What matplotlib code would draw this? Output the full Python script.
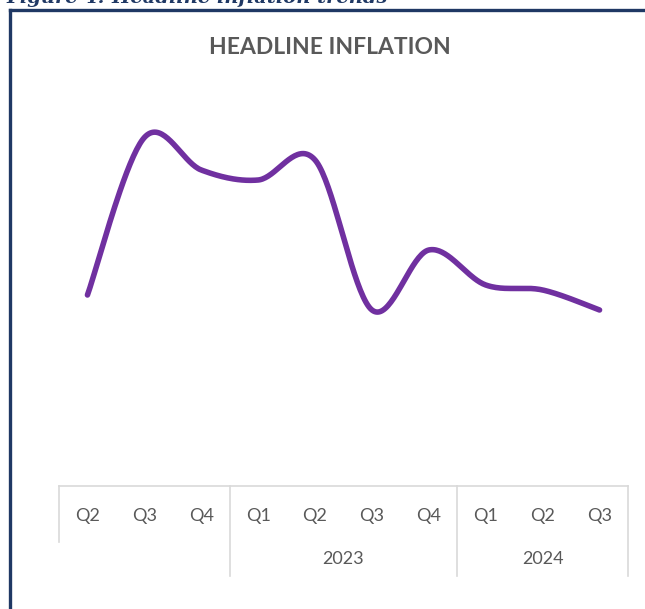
import numpy as np
import matplotlib
matplotlib.use("Agg")
import matplotlib.pyplot as plt
from matplotlib.lines import Line2D

# quarterly headline inflation (no value axis shown, values read off the line shape)
quarters = ["Q2", "Q3", "Q4", "Q1", "Q2", "Q3", "Q4", "Q1", "Q2", "Q3"]
years = ["", "2023", "2024"]
group_sizes = [3, 4, 3]
inflation = [6.2, 12.5, 11.2, 10.8, 11.6, 5.6, 8.0, 6.6, 6.4, 5.6]

PURPLE = "#7030A0"
GREY = "#595959"
NAVY = "#1F3864"
W, H = 645, 609


def smooth(x, y, n=40):
    # Excel-style smoothed line: Catmull-Rom bezier through the points
    x = np.asarray(x, float); y = np.asarray(y, float)
    px = np.r_[x[0], x, x[-1]]; py = np.r_[y[0], y, y[-1]]
    xs, ys = [], []
    t = np.linspace(0, 1, n)
    for i in range(1, len(x)):
        p0, p1, p2, p3 = [np.array([px[j], py[j]]) for j in (i - 1, i, i + 1, i + 2)]
        c1 = p1 + (p2 - p0) / 6
        c2 = p2 - (p3 - p1) / 6
        b = ((1 - t) ** 3)[:, None] * p1 + (3 * (1 - t) ** 2 * t)[:, None] * c1 \
            + (3 * (1 - t) * t ** 2)[:, None] * c2 + (t ** 3)[:, None] * p2
        xs.append(b[:, 0]); ys.append(b[:, 1])
    return np.concatenate(xs), np.concatenate(ys)


plt.rcParams["font.family"] = ["Lato", "DejaVu Sans"]
fig = plt.figure(figsize=(W / 100, H / 100), dpi=100)

def fx(px): return px / W
def fy(py): return 1 - py / H

# plot area
ax = fig.add_axes([fx(59), fy(486), fx(628) - fx(59), fy(80) - fy(486)])
xi = np.arange(len(quarters))
sx, sy = smooth(xi, inflation)
ax.plot(sx, sy, color=PURPLE, lw=4.0, solid_capstyle="round")
ax.set_xlim(-0.5, len(quarters) - 0.5)
ax.set_ylim(-1.44, 14.8)
ax.axis("off")

# multi-level category axis
cax = fig.add_axes([fx(59), fy(576), fx(628) - fx(59), fy(486) - fy(576)])
cax.set_xlim(-0.5, len(quarters) - 0.5)
cax.set_ylim(1, 0)
cax.axis("off")
lc = "#D9D9D9"
cax.plot([-0.5, len(quarters) - 0.5], [0, 0], color=lc, lw=1.2, clip_on=False)
start = 0
edges = [-0.5]
for g, n in enumerate(group_sizes):
    mid = start + (n - 1) / 2
    cax.text(mid, 0.81, years[g], ha="center", va="center", fontsize=13, color=GREY)
    start += n
    edges.append(start - 0.5)
for k, e in enumerate(edges):
    bottom = 0.62 if k == 0 else 1.0
    cax.plot([e, e], [0, bottom], color=lc, lw=1.2, clip_on=False)
for i, q in enumerate(quarters):
    cax.text(i, 0.33, q, ha="center", va="center", fontsize=13, color=GREY)

fig.text(fx(330), fy(47), "HEADLINE INFLATION", ha="center", va="center",
         fontsize=16.5, fontweight="bold", color=GREY)

# caption above the frame, cut off at the top edge as in the source page
fig.text(fx(6), fy(3), "Figure 4: Headline inflation trends", ha="left", va="baseline",
         fontsize=14, fontweight="bold", style="italic", color=NAVY, family="DejaVu Serif")
fig.add_artist(Line2D([fx(10), 1], [fy(10), fy(10)], color=NAVY, lw=2.4))
fig.add_artist(Line2D([fx(10), fx(10)], [fy(10), 0], color=NAVY, lw=2.4))

fig.savefig("out.png", dpi=100)
